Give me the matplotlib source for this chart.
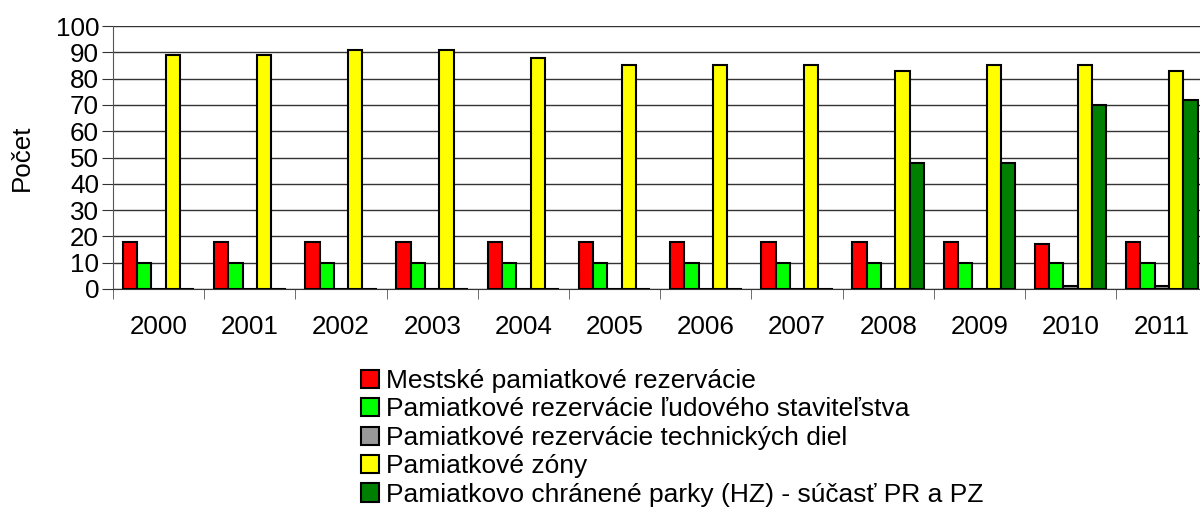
import matplotlib
matplotlib.use("Agg")
import matplotlib.pyplot as plt
import numpy as np
from matplotlib.ticker import FixedLocator

plt.rcParams['font.family'] = ['Liberation Sans', 'DejaVu Sans']

years = ['2000', '2001', '2002', '2003', '2004', '2005', '2006', '2007', '2008', '2009', '2010', '2011']
series_names = [
    'Mestské pamiatkové rezervácie',
    'Pamiatkové rezervácie ľudového staviteľstva',
    'Pamiatkové rezervácie technických diel',
    'Pamiatkové zóny',
    'Pamiatkovo chránené parky (HZ) - súčasť PR a PZ',
]
mestske = [18, 18, 18, 18, 18, 18, 18, 18, 18, 18, 17, 18]
ludove = [10, 10, 10, 10, 10, 10, 10, 10, 10, 10, 10, 10]
technicke = [0, 0, 0, 0, 0, 0, 0, 0, 0, 0, 1, 1]
zony = [89, 89, 91, 91, 88, 85, 85, 85, 83, 85, 85, 83]
parky = [0, 0, 0, 0, 0, 0, 0, 0, 48, 48, 70, 72]
colors = ['#ff0000', '#00ff00', '#999999', '#ffff00', '#008000']
values = [mestske, ludove, technicke, zony, parky]

FS = 18.7
LFS = 19

fig = plt.figure(figsize=(12, 5.08), dpi=100)
ax = fig.add_axes([113/1200, 1-289/508, 12*91.2/1200, 263/508])

n = len(years)
x = np.arange(n)
bw = 0.157
for i, (vals, c, name) in enumerate(zip(values, colors, series_names)):
    ax.bar(x + (i - 2) * bw, vals, bw, color=c, edgecolor='black', linewidth=1.5,
           label=name, zorder=3)

ax.set_xlim(-0.5, n - 0.5)
ax.set_ylim(0, 100)
ax.set_yticks(range(0, 101, 10))
ax.grid(axis='y', color='#333333', linewidth=1, zorder=0)
ax.set_axisbelow(True)
for s in ['top', 'right']:
    ax.spines[s].set_visible(False)
ax.spines['left'].set_color('#555555')
ax.spines['bottom'].set_color('#333333')
ax.tick_params(axis='y', labelsize=FS, length=8, color='#333333', pad=2)
ax.set_xticks(x)
ax.set_xticklabels(years)
ax.tick_params(axis='x', which='major', labelsize=FS, length=0, pad=19)
ax.xaxis.set_minor_locator(FixedLocator(np.arange(-0.5, n, 1.0)))
ax.tick_params(axis='x', which='minor', length=7, color='#555555')
ax.set_ylabel('Počet', fontsize=FS, labelpad=16)

handles, labels = ax.get_legend_handles_labels()
leg = fig.legend(handles, labels, loc='upper left', bbox_to_anchor=(361/1200, 1-369/508),
                 frameon=False, fontsize=LFS, handlelength=0.7, handleheight=0.7,
                 handletextpad=0.25, labelspacing=0.17, borderaxespad=0, borderpad=0)

fig.savefig('out.png', dpi=100)
